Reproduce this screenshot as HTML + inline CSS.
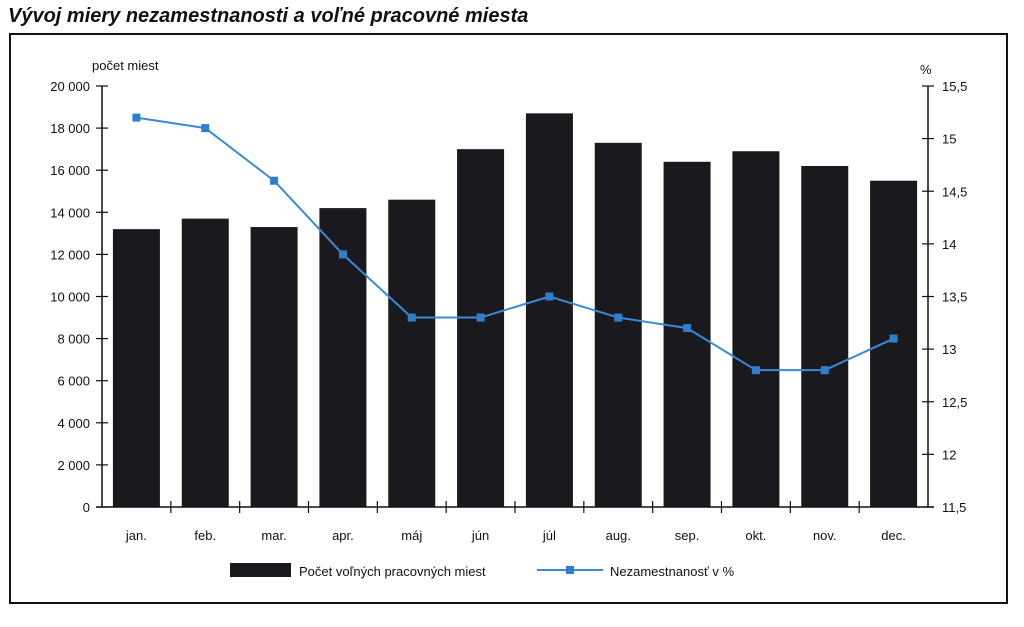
<!DOCTYPE html>
<html><head><meta charset="utf-8"><style>
html,body{margin:0;padding:0;background:#fff;}
body{width:1024px;height:622px;position:relative;overflow:hidden;font-family:"Liberation Sans",Arial,sans-serif;}
</style></head><body>
<svg id="chart" width="1024" height="622" xmlns="http://www.w3.org/2000/svg" font-family="Liberation Sans, Arial, sans-serif">
<text x="8" y="22" font-size="20" font-weight="bold" font-style="italic" fill="#111">Vývoj miery nezamestnanosti a voľné pracovné miesta</text>
<rect x="10" y="34" width="997" height="569" fill="none" stroke="#111" stroke-width="2"/>
<text x="92" y="70" font-size="13" fill="#111">počet miest</text>
<text x="920" y="74" font-size="13" fill="#111">%</text>
<g id="bars"></g><g id="axes"></g><g id="line"></g>
<g>
<rect x="230" y="563" width="61" height="14" fill="#1a1a1e"/>
<text x="299" y="576" font-size="13" fill="#111">Počet voľných pracovných miest</text>
<line x1="537" y1="570" x2="603" y2="570" stroke="#3a8ad8" stroke-width="2"/>
<rect x="566" y="566" width="8" height="8" fill="#2f7fd0"/>
<text x="610" y="576" font-size="13" fill="#111">Nezamestnanosť v %</text>
</g>
</svg>
<script>
const categories=["jan.","feb.","mar.","apr.","máj","jún","júl","aug.","sep.","okt.","nov.","dec."];
const vacancies=[13200,13700,13300,14200,14600,17000,18700,17300,16400,16900,16200,15500];
const unemployment=[15.2,15.1,14.6,13.9,13.3,13.3,13.5,13.3,13.2,12.8,12.8,13.1];
const leftTicks=[0,2000,4000,6000,8000,10000,12000,14000,16000,18000,20000];
const rightTicks=[11.5,12,12.5,13,13.5,14,14.5,15,15.5];
const NS="http://www.w3.org/2000/svg";
const X0=102,X1=928,Y0=507,Y1=86;
const step=(X1-X0)/categories.length;
const yL=v=>Y0-(v/20000)*(Y0-Y1);
const yR=v=>Y0-((v-11.5)/4)*(Y0-Y1);
const xC=i=>X0+step*(i+0.5);
function mk(tag,attrs,parent){const e=document.createElementNS(NS,tag);for(const k in attrs)e.setAttribute(k,attrs[k]);parent.appendChild(e);return e;}
const bars=document.getElementById('bars'),axes=document.getElementById('axes'),line=document.getElementById('line');
vacancies.forEach((v,i)=>{
 const r=mk('rect',{x:xC(i)-23.5,y:yL(v),width:47,height:Y0-yL(v),fill:'#1a1a1e'},bars);
 
 
});
let a=mk('line',{x1:X0,y1:Y1,x2:X0,y2:Y0,stroke:'#111','stroke-width':1.5},axes);

a=mk('line',{x1:X1,y1:Y1,x2:X1,y2:Y0,stroke:'#111','stroke-width':1.5},axes);

a=mk('line',{x1:X0-6,y1:Y0,x2:X1+6,y2:Y0,stroke:'#111','stroke-width':1.5},axes);

leftTicks.forEach(t=>{
 mk('line',{x1:X0-6,y1:yL(t),x2:X0+6,y2:yL(t),stroke:'#111','stroke-width':1.2},axes);
 const tx=mk('text',{x:X0-12,y:yL(t)+5,'font-size':13,'text-anchor':'end',fill:'#111'},axes);
 tx.textContent=t===0?'0':t.toLocaleString('en').replace(',',' ');
 
});
rightTicks.forEach(t=>{
 mk('line',{x1:X1-6,y1:yR(t),x2:X1+6,y2:yR(t),stroke:'#111','stroke-width':1.2},axes);
 const tx=mk('text',{x:X1+14,y:yR(t)+5,'font-size':13,fill:'#111'},axes);
 tx.textContent=String(t).replace('.',',');
 
});
categories.forEach((c,i)=>{
 if(i>0)mk('line',{x1:X0+step*i,y1:Y0-6,x2:X0+step*i,y2:Y0+6,stroke:'#111','stroke-width':1.2},axes);
 const tx=mk('text',{x:xC(i),y:540,'font-size':13,'text-anchor':'middle',fill:'#111'},axes);
 tx.textContent=c;
 
});
const pl=mk('polyline',{points:unemployment.map((v,i)=>xC(i)+','+yR(v)).join(' '),fill:'none',stroke:'#3a8ad8','stroke-width':2},line);

unemployment.forEach((v,i)=>{
 const p=mk('rect',{x:xC(i)-4,y:yR(v)-4,width:8,height:8,fill:'#2f7fd0'},line);
 
});
</script>
</body></html>
